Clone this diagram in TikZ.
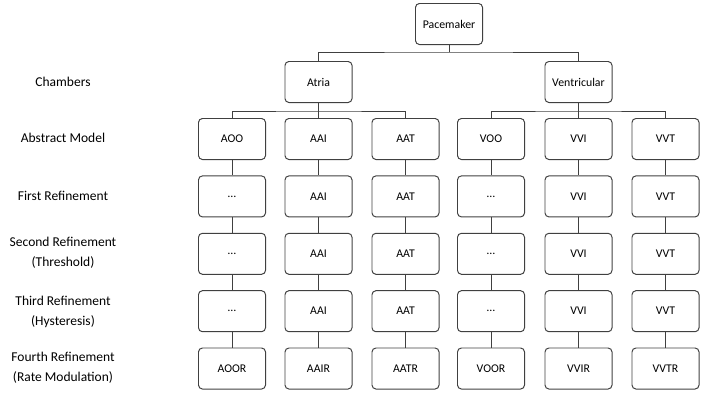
\documentclass[tikz,border=0pt]{standalone}
\usepackage{fontspec}
\setmainfont{Carlito}
\tikzset{
  box/.style={draw=black!75,line width=0.7pt,rounded corners=2.8pt,
    minimum width=1.675cm,minimum height=1.025cm,inner sep=1pt,
    font=\fontsize{8.4}{10}\selectfont},
  lev/.style={align=center,font=\fontsize{9.6}{14.2}\selectfont},
  link/.style={draw=black!75,line width=0.7pt}
}
\begin{document}
\begin{tikzpicture}[x=0.025cm,y=-0.025cm]
  \useasboundingbox (0,0) rectangle (703,396);
  \path
  (449,52) coordinate (jp)
  (318.5,111) coordinate (ja)
  (578.5,111) coordinate (jv);
  % levels
  \foreach \t/\y in {Chambers/82,Abstract Model/138,First Refinement/196,
    Second Refinement\\(Threshold)/253,Third Refinement\\(Hysteresis)/311.5,
    Fourth Refinement\\(Rate Modulation)/368}
  \node[lev] at (63,\y) {\t};
  % tree
  \node[box] (pm) at (449,24) {Pacemaker};
  \node[box] (at) at (318.5,82) {Atria};
  \node[box] (ve) at (578.5,82) {Ventricular};
  \foreach \c/\x/\m/\r/\f in {1/232/AOO/\dots/AOOR,2/318.5/AAI/AAI/AAIR,
    3/405.5/AAT/AAT/AATR,4/491/VOO/\dots/VOOR,5/578.5/VVI/VVI/VVIR,
    6/665.5/VVT/VVT/VVTR}{
    \node[box] (m\c0) at (\x,139) {\m};
    \foreach \j in {1,2,3}
    \node[box] (m\c\j) at (\x,{139+57.4*\j}) {\r};
    \node[box] (m\c4) at (\x,368.5) {\f};
    \foreach \i/\j in {0/1,1/2,2/3,3/4}
    \draw[link] (m\c\i) -- (m\c\j);
  }
  \draw[link] (pm) -- (jp);
  \draw[link] (at.north) |- (jp) -| (ve.north);
  \draw[link] (at) -- (ja);
  \draw[link] (m10.north) |- (ja) -| (m30.north);
  \draw[link] (ja) -- (m20);
  \draw[link] (ve) -- (jv);
  \draw[link] (m40.north) |- (jv) -| (m60.north);
  \draw[link] (jv) -- (m50);
\end{tikzpicture}
\end{document}
